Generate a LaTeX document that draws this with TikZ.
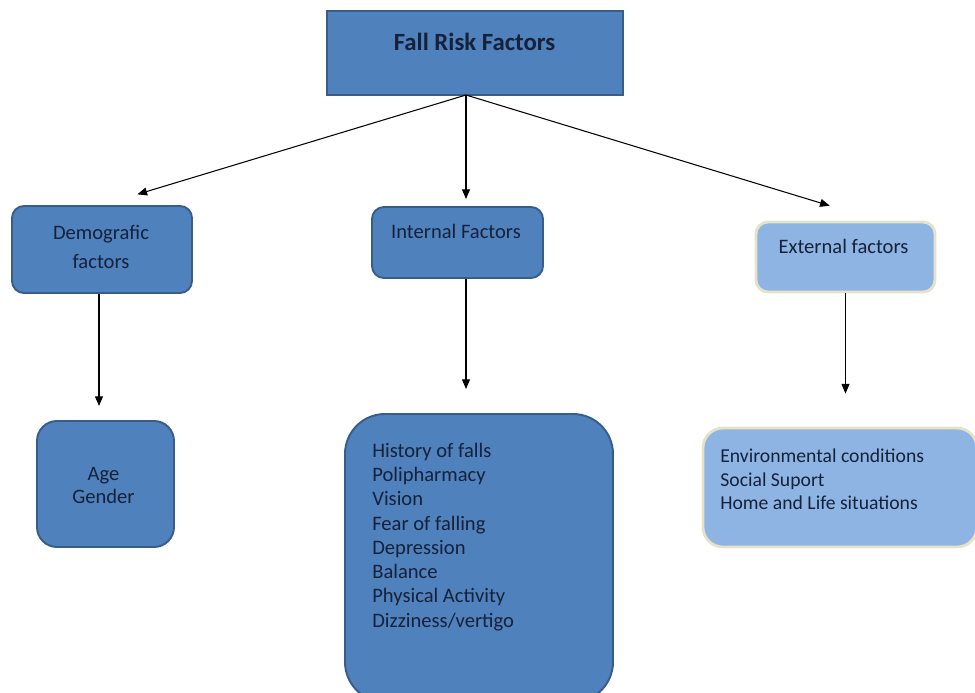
\documentclass[tikz,border=0pt]{standalone}
\usepackage{fontspec}
\setmainfont{Carlito}
\usetikzlibrary{fit,arrows.meta}
\definecolor{boxblue}{HTML}{4F81BD}
\definecolor{boxline}{HTML}{385D8A}
\definecolor{paleblue}{HTML}{8EB4E3}
\definecolor{paleline}{HTML}{E6E2C8}
\definecolor{inkblue}{HTML}{16213A}

\begin{document}
\begin{tikzpicture}[x=0.02cm, y=-0.02cm,
  darkbox/.style={draw=boxline, line width=1.1pt, fill=boxblue, inner sep=0pt},
  lightbox/.style={draw=paleline, line width=1.6pt, fill=paleblue, inner sep=0pt},
  itemtext/.style={font=\fontsize{11.7}{13.8}\selectfont, text=inkblue, inner sep=0pt},
  arrow/.style={-{Triangle[length=5.5pt,width=4.5pt]}, semithick}]

\useasboundingbox (0,0) rectangle (975,693);
\clip (0,0) rectangle (975,693);

\begin{scope}
% boxes
\node[darkbox, fit={(327,11) (623,95)}] (risk) {};
\node[darkbox, rounded corners=0.24cm, fit={(12,206) (192,293)}] (demo) {};
\node[darkbox, rounded corners=0.24cm, fit={(372,207) (543,278)}] (intl) {};
\node[lightbox, rounded corners=0.24cm, fit={(756,222) (935,292)}] (extl) {};
\node[darkbox, rounded corners=0.4cm, fit={(37,421) (174,547)}] (age) {};
\node[darkbox, rounded corners=0.8cm, fit={(345,414) (613,702)}] (ilist) {};
\node[lightbox, rounded corners=0.4cm, fit={(703,428) (977,547)}] (elist) {};

% texts (base = last line)
\node[itemtext, font=\fontsize{14.1}{16}\selectfont\bfseries, anchor=base] (risktxt) at (474.5,51) {Fall Risk Factors};
\node[itemtext, align=center, anchor=base, font=\fontsize{11.7}{16.4}\selectfont] (demotxt) at (101,268.5) {Demografic\\factors};
\node[itemtext, anchor=base] (intltxt) at (456,238.5) {Internal Factors};
\node[itemtext, anchor=base] (extltxt) at (843.5,253.5) {External factors};
\node[itemtext, align=center, anchor=base, font=\fontsize{11.7}{13}\selectfont] (agetxt) at (103.5,503.5) {Age\\Gender};
\node[itemtext, align=left, anchor=base west] (ilisttxt) at (372,627) {History of falls\\Polipharmacy\\Vision\\Fear of falling\\Depression\\Balance\\Physical Activity\\Dizziness/vertigo};
\node[itemtext, align=left, anchor=base west, font=\fontsize{11.2}{13.3}\selectfont] (elisttxt) at (720,509.5) {Environmental conditions\\Social Suport\\Home and Life situations};

% connectors
\coordinate (hub) at (466,95);
\draw[arrow, shorten >=0.74cm] (hub) -- (demo.north);
\draw[arrow, shorten >=0.14cm] (hub) -- (hub |- intl.north);
\draw[arrow, shorten >=1.02cm] (hub) -- ([xshift=0.66cm]extl.north);

\draw[arrow, shorten >=0.28cm] ([xshift=-0.06cm]demo.south) -- ([xshift=-0.06cm]demo.south |- age.north);
\draw[arrow, shorten >=0.48cm] (intl.south -| hub) -- (ilist.north -| hub);
\draw[arrow, shorten >=0.66cm] (extl.south) -- (extl.south |- elist.north);
\end{scope}

\end{tikzpicture}
\end{document}
